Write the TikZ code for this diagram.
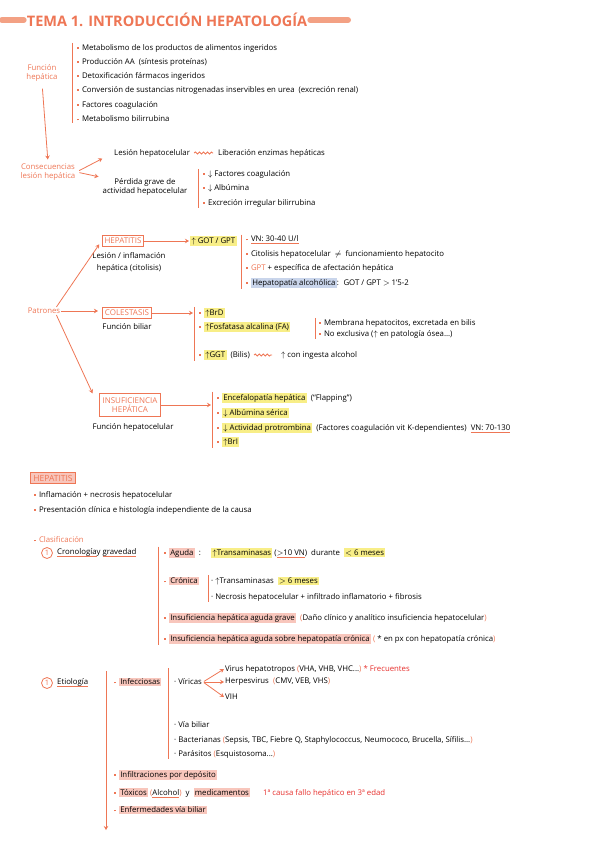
\documentclass[tikz,border=0pt]{standalone}
\usepackage{fontspec}
\setmainfont{Open Sans}
\usetikzlibrary{positioning,arrows.meta,decorations.pathmorphing}

\definecolor{orn}{HTML}{EE7655}
\definecolor{barc}{HTML}{F3A184}
\definecolor{hly}{HTML}{F8EE87}
\definecolor{hlp}{HTML}{F8C6BC}
\definecolor{hlb}{HTML}{C9D5EB}
\definecolor{rd}{HTML}{E62E2B}

\newcommand\bul{\textcolor{orn}{\rule[0.35ex]{1.8pt}{1.8pt}}\hspace{3pt}}
\newcommand\hly[1]{{\fboxsep=1.3pt\colorbox{hly}{#1}}}
\newcommand\hlp[1]{{\fboxsep=1.3pt\colorbox{hlp}{#1}}}
\newcommand\hlb[1]{{\fboxsep=1.3pt\colorbox{hlb}{#1}}}
\newcommand\oul[1]{\setbox0\hbox{#1}\rlap{\color{orn}\rule[-2.4pt]{\wd0}{0.8pt}}\box0}
\newcommand\up{$\uparrow$}
\newcommand\dn{$\downarrow$}
\newcommand\lp{\textcolor{orn}{(}}
\newcommand\rp{\textcolor{orn}{)}}

\begin{document}
\begin{tikzpicture}[x=1pt, y=-1pt,
    txt/.style={anchor=west, inner sep=1pt, font=\fontsize{7.8}{9}\selectfont},
    otxt/.style={txt, text=orn},
    tbox/.style={draw=orn, line width=1pt, inner sep=2.5pt, text=orn, align=center, font=\fontsize{8}{9.5}\selectfont},
    arr/.style={draw=orn, line width=0.8pt, -{Stealth[length=4pt,width=4.5pt]}},
    brk/.style={draw=orn, line width=0.9pt},
    tbar/.style={draw=barc, line width=6pt, line cap=round},
    wavy/.style={draw=orn, line width=0.9pt, decorate, decoration={snake, amplitude=1pt, segment length=4pt}},
    num/.style={circle, draw=orn, line width=0.8pt, text=orn, inner sep=0pt, minimum size=11pt, font=\fontsize{7.5}{8}\selectfont}
  ]
  \useasboundingbox (0,0) rectangle (600,848);

  % titulo
  \node[text=orn, font=\fontsize{14.5}{16}\bfseries, inner sep=3pt] (title) at (167,20) {TEMA 1. INTRODUCCIÓN HEPATOLOGÍA};
  \coordinate (tl) at (2,20);
  \coordinate (tr) at (348,20);
  \draw[tbar] (tl) -- (title.west);
  \draw[tbar] (title.east) -- (tr);

  % funcion hepatica
  \node[otxt, anchor=center, align=center] (fh) at (42,73) {Función\\hepática};
  \node[txt] (f1) at (76,48) {\bul Metabolismo de los productos de alimentos ingeridos};
  \node[txt] (f2) at (76,62) {\bul Producción AA \ (síntesis proteínas)};
  \node[txt] (f3) at (76,76) {\bul Detoxificación fármacos ingeridos};
  \node[txt] (f4) at (76,90) {\bul Conversión de sustancias nitrogenadas inservibles en urea \ (excreción renal)};
  \node[txt] (f5) at (76,105) {\bul Factores coagulación};
  \node[txt] (f6) at (76,119) {\bul Metabolismo bilirrubina};
  \draw[brk] ([xshift=-4pt]f1.north west) -- ([xshift=-4pt]f6.south west);

  % consecuencias
  \node[otxt, anchor=center, align=center] (cl) at (48,172) {Consecuencias\\lesión hepática};
  \draw[arr, shorten <=6pt, shorten >=3pt] (fh.south) -- (cl.north);
  \node[txt] (les) at (113,153) {Lesión hepatocelular};
  \node[txt] (lib) at (217,153) {Liberación enzimas hepáticas};
  \draw[wavy] ([xshift=3pt]les.east) -- ([xshift=-4pt]lib.west);
  \node[txt, anchor=center, align=center] (per) at (145,187) {Pérdida grave de\\actividad hepatocelular};
  \node[txt] (p1) at (202,174) {\bul \dn\ Factores coagulación};
  \node[txt] (p2) at (202,188) {\bul \dn\ Albúmina};
  \node[txt] (p3) at (202,203) {\bul Excreción irregular bilirrubina};
  \draw[brk] ([xshift=-4pt]p1.north west) -- ([xshift=-4pt]p3.south west);
  \draw[arr, shorten <=3pt, shorten >=12pt] (cl.east) -- (les.west);
  \draw[arr, shorten <=3pt, shorten >=3pt] (cl.east) -- (per.north west);

  % patrones
  \node[otxt, anchor=center] (pat) at (44,311) {Patrones};

  \node[tbox] (hepb) at (123,241) {HEPATITIS};
  \node[txt, anchor=north, align=center] (hepd) at (129,251) {Lesión / inflamación\\[3pt]hepática (citolisis)};
  \node[txt] (got) at (189,241) {\hly{\up\ GOT / GPT}};
  \node[txt] (h1) at (245,240) {\bul \oul{VN: 30-40 U/l}};
  \node[txt] (h2) at (245,254) {\bul Citolisis hepatocelular \ $\neq$ \ funcionamiento hepatocito};
  \node[txt] (h3) at (245,268) {\bul \textcolor{orn}{GPT} + específica de afectación hepática};
  \node[txt] (h4) at (245,283) {\bul \hlb{Hepatopatía alcohólica}: \ GOT / GPT $>$ 1'5-2};
  \draw[brk] ([xshift=-4pt]h1.north west) -- ([xshift=-4pt]h4.south west);
  \draw[arr] (hepb.east) -- (got.west);

  \node[tbox] (colb) at (127,313) {COLESTASIS};
  \node[txt, anchor=north] (cold) at (127,322) {Función biliar};
  \node[txt] (c1) at (198,313) {\bul \hly{\up BrD}};
  \node[txt] (c2) at (198,327) {\bul \hly{\up Fosfatasa alcalina (FA)}};
  \node[txt] (fa1) at (318,323) {\bul Membrana hepatocitos, excretada en bilis};
  \node[txt] (fa2) at (318,334) {\bul No exclusiva (\up\ en patología ósea...)};
  \draw[brk] ([xshift=-3pt]fa1.north west) -- ([xshift=-3pt]fa2.south west);
  \node[txt] (c3) at (198,355) {\bul \hly{\up GGT} \ (Bilis)};
  \node[txt] (ggt) at (280,355) {\up\ con ingesta alcohol};
  \draw[wavy] ([xshift=3pt]c3.east) -- ([xshift=-8pt]ggt.west);
  \draw[brk] ([xshift=-4pt]c1.north west) -- ([xshift=-4pt]c3.south west);
  \draw[arr, shorten >=5pt] (colb.east) -- (colb.east -| c1.west);

  \node[tbox, inner sep=3.5pt] (insb) at (130,405) {INSUFICIENCIA\\HEPÁTICA};
  \node[txt, anchor=north] (insd) at (133,422) {Función hepatocelular};
  \node[txt] (i1) at (216,398) {\bul \hly{Encefalopatía hepática} \ (``Flapping'')};
  \node[txt] (i2) at (216,413) {\bul \hly{\dn\ Albúmina sérica}};
  \node[txt] (i3) at (216,428) {\bul \hly{\dn\ Actividad protrombina} \ (Factores coagulación vit K-dependientes) \ \oul{VN: 70-130}};
  \node[txt] (i4) at (216,442) {\bul \hly{\up BrI}};
  \draw[brk] ([xshift=-4pt]i1.north west) -- ([xshift=-4pt]i4.south west);
  \draw[arr, shorten >=5pt] (insb.east) -- (insb.east -| i1.west);

  \draw[arr, shorten >=4pt] ([xshift=-5pt]pat.north east) -- (hepb.west);
  \draw[arr, shorten >=4pt] (pat.east) -- (pat.east -| colb.west);
  \draw[arr] ([xshift=-5pt]pat.south east) -- ([xshift=-6pt]insb.north west);

  % hepatitis
  \node[tbox, fill=hlp, font=\fontsize{8.5}{9.5}\selectfont] (hh) at (53,478) {HEPATITIS};
  \node[txt] (b1) at (33,495) {\bul Inflamación + necrosis hepatocelular};
  \node[txt] (b2) at (33,510) {\bul Presentación clínica e histología independiente de la causa};
  \node[txt] (cls) at (33,540) {\bul \textcolor{orn}{Clasificación}};

  \node[num] (n1) at (47,553) {1};
  \node[txt] (cro) at (56,553) {\oul{Cronología} y \oul{gravedad}};
  \node[txt] (ag) at (163,553) {\bul \hlp{Aguda} \ : \quad \hly{\up Transaminasas} (\oul{$>$10 VN}) \ durante \ \hly{$<$ 6 meses}};
  \node[txt] (cr) at (163,581) {\bul \hlp{Crónica}};
  \node[txt] (cr1) at (210,581) {· \up Transaminasas \ \hly{$>$ 6 meses}};
  \node[txt] (cr2) at (210,597) {· Necrosis hepatocelular + infiltrado inflamatorio + fibrosis};
  \draw[brk] ([xshift=-2pt]cr1.north west) -- ([xshift=-2pt]cr2.south west);
  \node[txt] (iag) at (163,618) {\bul \hlp{Insuficiencia hepática aguda grave} \ \lp Daño clínico y analítico insuficiencia hepatocelular\rp};
  \node[txt] (isc) at (163,639) {\bul \hlp{Insuficiencia hepática aguda sobre hepatopatía crónica} \lp \ * en px con hepatopatía crónica\rp};
  \draw[brk] ([xshift=-5pt]ag.north west) -- ([xshift=-5pt]isc.south west);

  \node[num] (n2) at (47,683) {1};
  \node[txt] (eti) at (56,683) {\oul{Etiología}};
  \coordinate (etop) at (106,671);
  \coordinate (ebot) at (106,830);
  \draw[arr] (etop) -- (ebot);
  \node[txt] (inf) at (113,682) {\bul \hlp{Infecciosas}};
  \coordinate (bi1) at (168,668);
  \coordinate (bi2) at (168,759);
  \draw[brk] (bi1) -- (bi2);
  \node[txt] (vir) at (173,682) {· Víricas};
  \node[txt] (vh1) at (224,669) {Virus hepatotropos \lp VHA, VHB, VHC...\rp \ \textcolor{rd}{* Frecuentes}};
  \node[txt] (vh2) at (224,682) {Herpesvirus \ \lp CMV, VEB, VHS\rp};
  \node[txt] (vh3) at (224,697) {VIH};
  \draw[arr, shorten <=1pt] (vir.east) -- (vh1.west);
  \draw[arr, shorten <=1pt] (vir.east) -- (vh2.west);
  \draw[arr, shorten <=1pt] (vir.east) -- (vh3.west);
  \node[txt] (vb) at (173,725) {· Vía biliar};
  \node[txt] (bac) at (173,740) {· Bacterianas \lp Sepsis, TBC, Fiebre Q, Staphylococcus, Neumococo, Brucella, Sífilis...\rp};
  \node[txt] (par) at (173,754) {· Parásitos \lp Esquistosoma...\rp};
  \node[txt] (dep) at (113,775) {\bul \hlp{Infiltraciones por depósito}};
  \node[txt] (tox) at (113,793) {\bul \hlp{Tóxicos} \lp\oul{Alcohol}\rp\ \ y \ \hlp{medicamentos}};
  \node[txt, text=rd] (nota) at (262,793) {1ª causa fallo hepático en 3ª edad};
  \node[txt] (evb) at (113,810) {\bul \hlp{Enfermedades vía biliar}};
\end{tikzpicture}
\end{document}
